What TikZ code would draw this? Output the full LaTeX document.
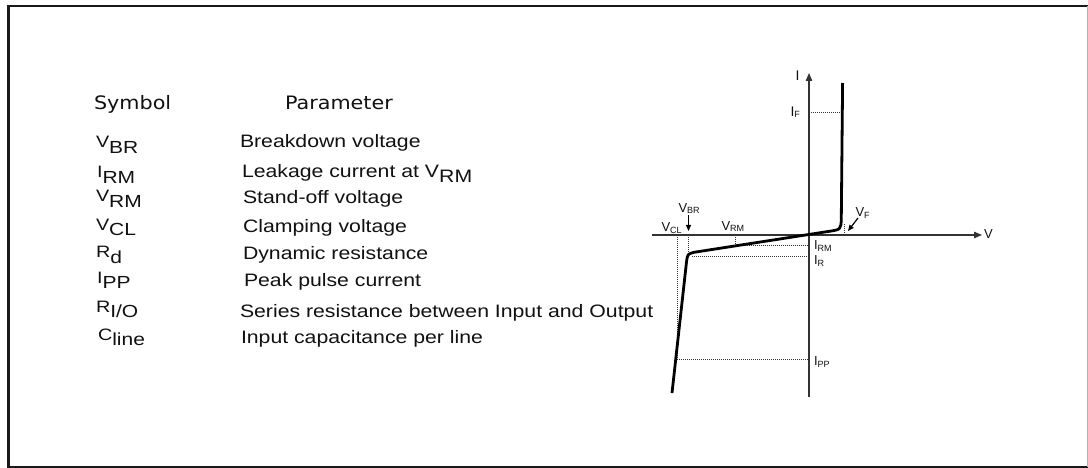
\documentclass[tikz,border=0pt]{standalone}
\usepackage{fontspec}
\setmainfont{Liberation Sans}
\newfontfamily\dvs{DejaVu Sans}
\usepackage{graphicx}
\usetikzlibrary{arrows.meta}
\newcommand\fs[1]{\fontsize{#1}{#1}\selectfont}
\newcommand\tsym[2]{\scalebox{1.2}[1]{\fs{16.5}#1\raisebox{-5.5pt}{\fs{17.5}#2}}}
\newcommand\tpar[1]{\scalebox{1.18}[1]{\fs{18}#1}}
\newcommand\dlab[2]{{\fs{13}#1\raisebox{-1.5pt}{\fs{9}#2}}}
\definecolor{ink}{HTML}{111111}
\definecolor{axc}{HTML}{333333}
\begin{document}
\begin{tikzpicture}[x=1pt,y=-1pt,
  txt/.style={anchor=base west,inner sep=0pt,outer sep=0pt,text=ink},
  axisline/.style={draw=axc,line width=1.2pt,-{Triangle[length=8pt,width=6.5pt]}},
  ivcurve/.style={draw=black,line width=2.8pt,line join=round,line cap=butt},
  dotline/.style={draw=axc,line width=1pt,dash pattern=on 1pt off 1pt},
  pointer/.style={draw=black,line width=1.2pt,-{Triangle[length=6pt,width=5pt]}}]
\useasboundingbox (0,0) rectangle (1088,468);
\fill[white] (0,0) rectangle (1088,468);
% frame
\draw[black!90,line width=2.4pt] (1088,6.2) -- (8.5,6.2) -- (8.5,467) -- (1088,467);
\draw[black!30,line width=1pt] (1087.5,6) -- (1087.5,467);
% table header
\node[txt] (hsym) at (94,110) {\scalebox{1.12}[1]{\dvs\fs{18.5}Symbol}};
\node[txt] (hpar) at (285,110) {\scalebox{1.12}[1]{\dvs\fs{18.5}Parameter}};
% symbols
\node[txt] (s1) at (96,148) {\tsym{V}{BR}};
\node[txt] (s2) at (97,178) {\tsym{I}{RM}};
\node[txt] (s3) at (96,202) {\tsym{V}{RM}};
\node[txt] (s4) at (96,230) {\tsym{V}{CL}};
\node[txt] (s5) at (96,258) {\tsym{R}{d}};
\node[txt] (s6) at (97,283) {\tsym{I}{PP}};
\node[txt] (s7) at (96,312) {\tsym{R}{I/O}};
\node[txt] (s8) at (98,340) {\tsym{C}{line}};
% parameters
\node[txt] (p1) at (240,148) {\tpar{Breakdown voltage}};
\node[txt] (p2) at (242,178) {\tpar{Leakage current at V\raisebox{-5pt}{RM}}};
\node[txt] (p3) at (243,204) {\tpar{Stand-off voltage}};
\node[txt] (p4) at (243,233) {\tpar{Clamping voltage}};
\node[txt] (p5) at (243,259) {\tpar{Dynamic resistance}};
\node[txt] (p6) at (244,287) {\tpar{Peak pulse current}};
\node[txt] (p7) at (240,317) {\tpar{Series resistance between Input and Output}};
\node[txt] (p8) at (241,343) {\tpar{Input capacitance per line}};
% key points
\coordinate (O) at (809,235);
\coordinate (Vs) at (652,235);
\coordinate (Ve) at (982,235);
\coordinate (Is) at (809,397);
\coordinate (Ie) at (809,73);
\coordinate (Cbot) at (672,393);
\coordinate (Ctop) at (842.6,83);
\coordinate (IFa) at (809,113);
\coordinate (IFb) at (842.3,113);
\coordinate (VFa) at (844,224);
\coordinate (VFb) at (844,235);
\coordinate (VRMa) at (735,235);
\coordinate (VRMb) at (735,245.3);
\coordinate (IRMb) at (809,245.3);
\coordinate (VBRa) at (688,235);
\coordinate (VBRb) at (688,256);
\coordinate (IRa) at (692,256);
\coordinate (IRb) at (809,256);
\coordinate (VCLa) at (677,235);
\coordinate (VCLb) at (677,359);
\coordinate (IPPb) at (809,359);
\coordinate (VBRarr0) at (688.5,215);
\coordinate (VBRarr1) at (688.5,231);
\coordinate (VFarr0) at (858,218);
\coordinate (VFarr1) at (848,231);
% dotted guides
\draw[dotline] (IFa) -- (IFb);
\draw[dotline] (VFa) -- (VFb);
\draw[dotline] (VRMa) -- (VRMb) -- (IRMb);
\draw[dotline] (VBRa) -- (VBRb);
\draw[dotline] (IRa) -- (IRb);
\draw[dotline] (VCLa) -- (VCLb) -- (IPPb);
% axes
\draw[axisline] (Vs) -- (Ve);
\draw[axisline] (Is) -- (Ie);
% I-V curve
\draw[ivcurve] (Cbot) -- (686.5,262) .. controls (687.6,254) .. (694,252.3)
  -- (828,231.5) .. controls (841,229.6) .. (841.3,218) -- (Ctop);
% pointers
\draw[pointer] (VBRarr0) -- (VBRarr1);
\draw[pointer] (VFarr0) -- (VFarr1);
% diagram labels
\node[txt] (lI) at (795.5,81) {\fs{14}I};
\node[txt] (lV) at (984,238.5) {\fs{13}V};
\node[txt] (lIF) at (790.5,117) {\fs{14}I\raisebox{-0.5pt}{\fs{9}F}};
\node[txt] (lVBR) at (678.5,212) {\dlab{V}{BR}};
\node[txt] (lVCL) at (661.5,232) {\dlab{V}{CL}};
\node[txt] (lVRM) at (721.5,230) {\dlab{V}{RM}};
\node[txt] (lVF) at (855.5,217) {\dlab{V}{F}};
\node[txt] (lIRM) at (814,250) {\dlab{I}{RM}};
\node[txt] (lIR) at (814,265) {\dlab{I}{R}};
\node[txt] (lIPP) at (814,365.5) {\dlab{I}{PP}};
\end{tikzpicture}
\end{document}
